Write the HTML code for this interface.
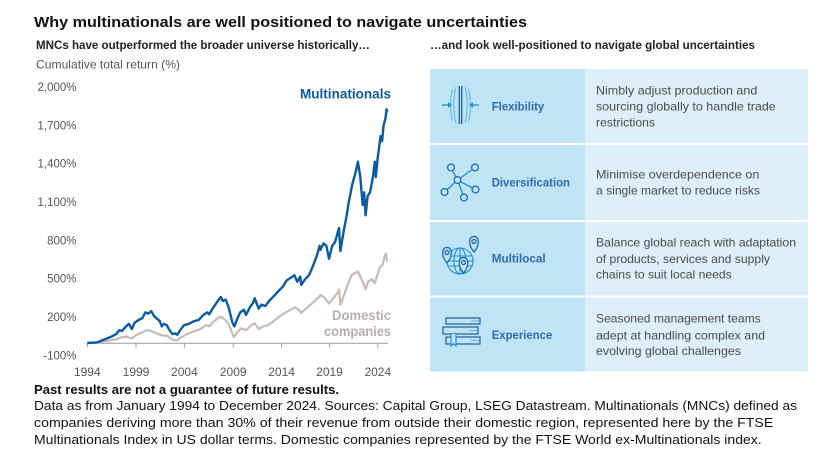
<!DOCTYPE html>
<html><head><meta charset="utf-8"><style>
html,body{margin:0;padding:0;background:#fff;}
svg{display:block;}
text{font-family:"Liberation Sans",sans-serif;}
</style></head><body>
<svg width="825" height="458" viewBox="0 0 825 458" xmlns="http://www.w3.org/2000/svg">
<rect width="825" height="458" fill="#fff"/>
<!-- Titles -->
<text x="34" y="27" font-size="15" font-weight="bold" fill="#111" textLength="493" lengthAdjust="spacingAndGlyphs">Why multinationals are well positioned to navigate uncertainties</text>
<text x="36" y="49" font-size="12" font-weight="bold" fill="#222" textLength="334" lengthAdjust="spacingAndGlyphs">MNCs have outperformed the broader universe historically…</text>
<text x="36" y="68.3" font-size="12" fill="#555" textLength="144" lengthAdjust="spacingAndGlyphs">Cumulative total return (%)</text>
<text x="430" y="49" font-size="12" font-weight="bold" fill="#222" textLength="325" lengthAdjust="spacingAndGlyphs">…and look well-positioned to navigate global uncertainties</text>

<!-- Y labels -->
<g font-size="11.5" fill="#555" text-anchor="end">
<text x="76.5" y="91.1">2,000%</text>
<text x="76.5" y="129.4">1,700%</text>
<text x="76.5" y="167.7">1,400%</text>
<text x="76.5" y="206">1,100%</text>
<text x="76.5" y="244.3">800%</text>
<text x="76.5" y="282.6">500%</text>
<text x="76.5" y="320.9">200%</text>
<text x="76.5" y="359.3">-100%</text>
</g>
<!-- axis -->
<line x1="87" y1="343.3" x2="388" y2="343.3" stroke="#9a9a9a" stroke-width="1"/>
<g stroke="#9a9a9a" stroke-width="1">
<line x1="87.3" y1="343" x2="87.3" y2="347.5"/>
<line x1="136" y1="343" x2="136" y2="347.5"/>
<line x1="184.4" y1="343" x2="184.4" y2="347.5"/>
<line x1="233.2" y1="343" x2="233.2" y2="347.5"/>
<line x1="281.6" y1="343" x2="281.6" y2="347.5"/>
<line x1="329.5" y1="343" x2="329.5" y2="347.5"/>
<line x1="377.8" y1="343" x2="377.8" y2="347.5"/>
</g>
<g font-size="12" fill="#555" text-anchor="middle">
<text x="87.3" y="376">1994</text>
<text x="136" y="376">1999</text>
<text x="184.4" y="376">2004</text>
<text x="233.2" y="376">2009</text>
<text x="281.6" y="376">2014</text>
<text x="329.5" y="376">2019</text>
<text x="377.8" y="376">2024</text>
</g>

<!-- Series -->
<polyline fill="none" stroke="#c5bcb7" stroke-width="2.2" stroke-linejoin="round" points="87.3,343 97,342.6 106.7,341.1 116.3,339.2 121.2,337.3 126,336.6 131.8,338.5 135.7,335.3 141.5,332.8 146.3,330.2 151.2,330.9 155.1,332.8 161.8,335.3 167.7,336 172.5,339.8 176.4,340.4 181.2,337.3 187,334.1 193.7,331.5 200.5,329 206.3,325.1 209.2,326.4 213.1,321.9 217.9,318.1 220.8,316.8 224.7,319.4 228.6,323.8 231.5,331.5 233.9,337.3 237.3,332.1 241.2,328.3 246,330.2 250.8,325.8 254.7,323.2 258.6,329 263.4,326.4 268.3,325.1 274.1,320.7 279.9,316.2 285.7,312.4 291.5,309.2 295.4,307.2 299.3,310.4 301.2,313 306.1,308.5 311.9,303.4 317.7,298.3 320.6,295.1 324.5,297.7 329,303.4 333.2,298.3 338.1,291.9 339,289.4 340.4,304.7 343.8,295.8 347.7,284.3 351.5,275.3 355.4,272.8 357.9,271.5 361.3,279.1 363.3,283 365.6,289.4 368.1,281.7 371.9,279.1 374.8,283 376.8,276.6 379.7,267.7 382.6,265.1 385,254.9 386,253.6 387.2,261.3"/>
<polyline fill="none" stroke="#0a5c9e" stroke-width="2.4" stroke-linejoin="round" points="87.3,343 92.1,342.7 97,342.4 102,340.4 106.7,338.5 111.5,336.6 116.3,334 119.2,330.2 122,330.9 126,326.4 128.9,323.8 131.8,329 134.7,322.6 138.6,320 142.4,318.1 145.4,312.4 148.3,313.6 151.2,311.1 154.1,316.2 157,318.7 159.9,321.3 161.8,326.4 163.8,323.8 166.7,325.1 169.6,330.2 172.5,334.1 175.4,333.4 177.3,334.7 180.2,330.2 184.1,325.1 188.9,323.8 193.7,321.3 198.6,320 203.4,314.9 207.3,312.4 209.2,314.3 213.1,307.9 217,302.1 220.8,297 222.8,300.9 225.7,299.6 228.6,307.2 230.5,314.9 232.4,322.6 234.4,326.4 237.3,318.7 240.2,312.4 244,309.8 246,314.9 249.9,307.2 252.8,303.4 254.7,298.3 258.6,308.5 261.5,304.7 265.4,306 269.2,300.9 274.1,295.8 278.9,290.6 282.8,286.8 286.7,280.4 290.6,277.9 294.4,275.3 297.3,281.7 300.2,276.6 301.2,284.9 305.1,279.2 309,275.3 312.8,266.4 316.7,256.2 319.6,245.9 320.6,249.8 323.5,243.4 326.4,245.9 329,258.7 332.2,245.9 335.1,242.1 339,228 340.4,251 343.8,230.6 346.7,215.3 348.7,202.5 352.5,183.4 355.4,173.2 357.9,161.7 360.3,177 362.7,205.1 364.2,192.3 365.6,215.3 367.6,196.1 370,192.3 372.9,177 374.8,161.7 375.8,177 377.7,157.8 380.6,136.1 382.1,141.2 383.5,125.9 385.5,118.2 386.6,109.3 387.2,111.9"/>

<text x="300" y="98.3" font-size="14" font-weight="bold" fill="#0e5a9c" textLength="91" lengthAdjust="spacingAndGlyphs">Multinationals</text>
<text x="332" y="320" font-size="14" font-weight="bold" fill="#b8afaa" textLength="59" lengthAdjust="spacingAndGlyphs">Domestic</text>
<text x="324" y="336" font-size="14" font-weight="bold" fill="#b8afaa" textLength="67" lengthAdjust="spacingAndGlyphs">companies</text>

<!-- Right panel -->
<rect x="430" y="69" width="155" height="74" fill="#bfe4f6"/>
<rect x="585" y="69" width="223" height="74" fill="#ddf0f9"/>
<rect x="430" y="145" width="155" height="75" fill="#bfe4f6"/>
<rect x="585" y="145" width="223" height="75" fill="#ddf0f9"/>
<rect x="430" y="222" width="155" height="73.5" fill="#bfe4f6"/>
<rect x="585" y="222" width="223" height="73.5" fill="#ddf0f9"/>
<rect x="430" y="297.5" width="155" height="74" fill="#bfe4f6"/>
<rect x="585" y="297.5" width="223" height="74" fill="#ddf0f9"/>

<g font-size="12" font-weight="bold" fill="#2e6cae">
<text x="491.7" y="110.5" textLength="52.6" lengthAdjust="spacingAndGlyphs">Flexibility</text>
<text x="491.7" y="186.7" textLength="78.3" lengthAdjust="spacingAndGlyphs">Diversification</text>
<text x="491.7" y="262.7" textLength="54" lengthAdjust="spacingAndGlyphs">Multilocal</text>
<text x="491.7" y="339" textLength="60.6" lengthAdjust="spacingAndGlyphs">Experience</text>
</g>
<g font-size="12" fill="#4a4a4a">
<text x="596" y="94.3" textLength="161.3" lengthAdjust="spacingAndGlyphs">Nimbly adjust production and</text>
<text x="596" y="110.5" textLength="179.7" lengthAdjust="spacingAndGlyphs">sourcing globally to handle trade</text>
<text x="596" y="126.7" textLength="59" lengthAdjust="spacingAndGlyphs">restrictions</text>
<text x="596" y="178.3" textLength="163.3" lengthAdjust="spacingAndGlyphs">Minimise overdependence on</text>
<text x="596" y="194.7" textLength="164" lengthAdjust="spacingAndGlyphs">a single market to reduce risks</text>
<text x="596" y="246.7" textLength="200" lengthAdjust="spacingAndGlyphs">Balance global reach with adaptation</text>
<text x="596" y="263" textLength="174" lengthAdjust="spacingAndGlyphs">of products, services and supply</text>
<text x="596" y="278.7" textLength="135.7" lengthAdjust="spacingAndGlyphs">chains to suit local needs</text>
<text x="596" y="322.7" textLength="164.7" lengthAdjust="spacingAndGlyphs">Seasoned management teams</text>
<text x="596" y="339.3" textLength="169" lengthAdjust="spacingAndGlyphs">adept at handling complex and</text>
<text x="596" y="355" textLength="145" lengthAdjust="spacingAndGlyphs">evolving global challenges</text>
</g>

<!-- Icon: Flexibility -->
<g fill="none">
<line x1="459.3" y1="86" x2="459.3" y2="124" stroke="#1a5e9e" stroke-width="1.3"/>
<line x1="461.7" y1="86" x2="461.7" y2="124" stroke="#1a5e9e" stroke-width="1.3"/>
<path d="M456,87 Q451.5,105 456,123 M452.5,89 Q448.5,105 452.5,121 M465,87 Q469.5,105 465,123 M468.5,89 Q472.5,105 468.5,121" stroke="#56b6e8" stroke-width="1"/>
<line x1="442" y1="105" x2="449" y2="105" stroke="#1e8fd5" stroke-width="1.3"/>
<line x1="479" y1="105" x2="472" y2="105" stroke="#1e8fd5" stroke-width="1.3"/>
</g>
<polygon points="452,105 448,102.3 448,107.7" fill="#1e8fd5"/>
<polygon points="469,105 473,102.3 473,107.7" fill="#1e8fd5"/>

<!-- Icon: Diversification -->
<g fill="none" stroke-width="1.3">
<g stroke="#1e8fd5">
<line x1="457.5" y1="180" x2="451" y2="167.5"/>
<line x1="457.5" y1="180" x2="475" y2="167.5"/>
<line x1="457.5" y1="180" x2="444.5" y2="192"/>
<line x1="457.5" y1="180" x2="475.5" y2="189.5"/>
<line x1="457.5" y1="180" x2="464" y2="197.5"/>
</g>
<g stroke="#1a6aae" fill="#bfe4f6">
<circle cx="457.5" cy="180" r="3.4"/>
<circle cx="451" cy="167.5" r="3.4"/>
<circle cx="475" cy="167.5" r="3.4"/>
<circle cx="444.5" cy="192" r="3.4"/>
<circle cx="475.5" cy="189.5" r="3.4"/>
<circle cx="464" cy="197.5" r="3.4"/>
</g>
</g>

<!-- Icon: Multilocal -->
<g fill="none" stroke="#1e8fd5" stroke-width="1.1">
<circle cx="460" cy="261" r="13"/>
<ellipse cx="460" cy="261" rx="6" ry="13"/>
<line x1="460" y1="248" x2="460" y2="274"/>
<line x1="448" y1="256" x2="472" y2="256"/>
<line x1="447" y1="261" x2="473" y2="261"/>
<line x1="448" y1="266" x2="472" y2="266"/>
</g>
<g stroke="#1a5e9e" stroke-width="1.2" fill="#bfe4f6">
<path d="M447,263 C441,256 441.5,247.5 447,247.5 C452.5,247.5 453,256 447,263 Z"/>
<circle cx="447" cy="252.5" r="2" fill="none"/>
<path d="M474,252 C468,245 468.5,236.5 474,236.5 C479.5,236.5 480,245 474,252 Z"/>
<circle cx="474" cy="241.5" r="2" fill="none"/>
<path d="M463.5,273 C457.5,266 458,257.5 463.5,257.5 C469,257.5 469.5,266 463.5,273 Z"/>
<circle cx="463.5" cy="262.5" r="2" fill="none"/>
</g>

<!-- Icon: Experience -->
<g fill="none" stroke="#1a5e9e" stroke-width="1.2">
<rect x="446" y="318" width="34" height="6"/>
<rect x="443" y="327" width="35" height="7"/>
<rect x="446" y="337" width="34" height="7"/>
</g>
<g stroke="#56b6e8" stroke-width="1">
<line x1="471" y1="321" x2="479" y2="321"/>
<line x1="469" y1="330.5" x2="477" y2="330.5"/>
<line x1="471" y1="340.5" x2="479" y2="340.5"/>
</g>
<path d="M451,334 L451,346 L453.5,343.5 L456,346 L456,334" fill="#bfe4f6" stroke="#1e8fd5" stroke-width="1.1"/>

<!-- Footer -->
<text x="34" y="394" font-size="13" font-weight="bold" fill="#111" textLength="305" lengthAdjust="spacingAndGlyphs">Past results are not a guarantee of future results.</text>
<g font-size="13" fill="#111">
<text x="34" y="410" textLength="763" lengthAdjust="spacingAndGlyphs">Data as from January 1994 to December 2024. Sources: Capital Group, LSEG Datastream. Multinationals (MNCs) defined as</text>
<text x="34" y="427" textLength="739.3" lengthAdjust="spacingAndGlyphs">companies deriving more than 30% of their revenue from outside their domestic region, represented here by the FTSE</text>
<text x="34" y="444" textLength="727.7" lengthAdjust="spacingAndGlyphs">Multinationals Index in US dollar terms. Domestic companies represented by the FTSE World ex-Multinationals index.</text>
</g>
</svg>
</body></html>
